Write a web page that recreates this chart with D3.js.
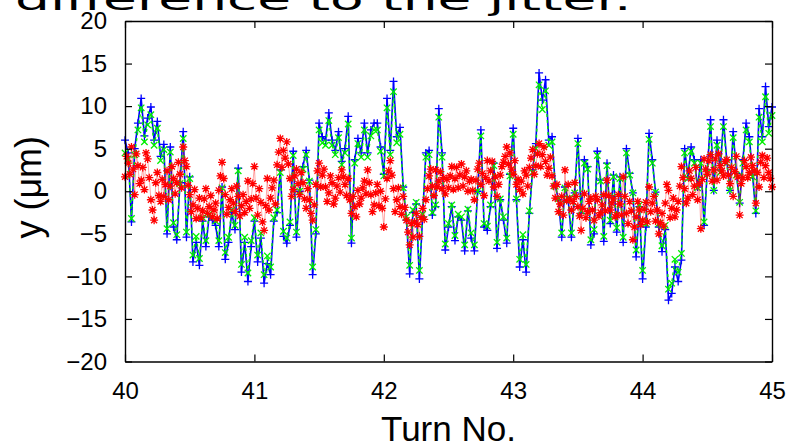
<!DOCTYPE html>
<html>
<head>
<meta charset="utf-8">
<script src="https://cdn.jsdelivr.net/npm/d3@7"></script>
<style>
  body { margin: 0; background: #fff; }
  svg { display: block; font-family: "Liberation Sans", Arial, sans-serif; }
</style>
</head>
<body>
<svg width="793" height="445"></svg>
<script>
// turn range and sampling of the measurement
const turnStart = 40;
const samplesPerTurn = 40;     // blue and green traces
const redSamplesPerTurn = 80;  // red trace is sampled twice as often
const xTicks = [40, 41, 42, 43, 44, 45];
const yTicks = [-20, -15, -10, -5, 0, 5, 10, 15, 20];

// blue "+" trace
const blueValues = [
  6.0, 4.5, -3.6, 5.0, 8.0, 10.9, 6.5, 8.6, 9.9, 6.0,
  8.2, 4.1, 5.5, -5.0, 5.2, -4.2, -5.7, 1.0, 7.0, -5.4,
  1.7, -8.3, -6.0, -8.7, -3.5, -6.5, -3.0, -3.4, -4.0, -6.5,
  0.5, -8.0, -6.0, -2.5, -4.5, 2.7, -9.5, -6.0, -10.6, -6.5,
  -3.5, -8.3, -5.5, -10.8, -8.5, -9.8, -3.5, -2.5, 2.5, -5.3,
  -6.1, -4.0, 4.7, -5.4, 0.0, 2.9, 4.8, 1.3, -9.8, -5.0,
  8.0, 6.4, 6.0, 9.2, 6.0, 4.8, 7.0, 3.5, 5.0, 8.8,
  -6.1, 3.7, 6.2, 4.5, 8.0, 4.5, 7.2, 8.0, 8.0, 5.2,
  2.0, 10.9, 4.8, 12.9, 6.4, 7.5, 0.5, -3.4, -9.7, -2.5,
  -1.5, -10.3, -3.0, 4.5, 4.8, -2.8, -1.8, 9.7, 4.5, -6.9,
  -4.2, -1.8, -5.8, -3.0, -3.4, -7.0, -2.3, -5.5, -7.0, 0.0,
  7.2, -4.2, -4.6, -1.8, 3.3, -6.7, -1.0, -3.4, -6.1, 2.0,
  7.4, -1.0, -8.9, -5.7, -9.5, -2.6, 2.5, 5.6, 13.9, 10.7,
  13.1, 6.0, 6.4, 0.7, -1.0, -5.4, 0.5, -1.0, -5.4, -0.2,
  6.2, -2.6, 3.7, 2.9, -6.3, -5.0, 4.7, 1.3, -5.9, 3.3,
  -3.8, 1.9, -4.8, 1.7, -6.0, 5.0, 2.1, -0.2, -7.7, -1.8,
  -10.3, -4.2, 6.8, 3.7, -0.1, -4.2, -7.1, -4.5, -12.8, -12.0,
  -8.9, -10.6, -8.1, 5.0, 1.7, 5.2, 3.7, 0.5, 3.7, -4.0,
  2.5, 8.4, 0.1, 6.0, 2.5, 8.4, 3.7, 0.1, 7.0, 2.1,
  -1.4, 3.7, 8.0, 6.4, 1.9, -2.6, 9.7, 6.4, 12.3, 7.6, 9.9
];

// green "x" trace
const greenValues = [
  4.5, 3.8, -3.2, 4.3, 7.2, 9.8, 5.8, 7.8, 9.0, 5.4,
  7.4, 3.6, 4.9, -4.4, 4.6, -3.7, -5.1, 0.9, 6.2, -4.8,
  1.5, -7.5, -5.3, -7.9, -3.1, -5.8, -2.7, -3.0, -3.5, -5.8,
  0.4, -7.2, -5.4, -2.2, -4.0, 2.4, -8.6, -5.4, -9.6, -5.8,
  -3.1, -7.5, -4.9, -9.8, -7.6, -8.9, -3.1, -2.2, 2.2, -4.7,
  -5.5, -3.6, 4.2, -4.8, 0.0, 2.6, 4.3, 1.2, -8.9, -4.5,
  7.2, 5.7, 5.4, 8.3, 5.4, 4.3, 6.3, 3.1, 4.5, 7.9,
  -5.5, 3.3, 5.6, 4.0, 7.2, 4.0, 6.5, 7.2, 7.2, 4.7,
  1.8, 9.8, 4.3, 11.7, 5.7, 6.7, 0.4, -3.0, -8.7, -2.2,
  -1.3, -9.3, -2.7, 4.0, 4.3, -2.5, -1.6, 8.7, 4.0, -6.2,
  -3.8, -1.6, -5.2, -2.7, -3.0, -6.3, -2.1, -4.9, -6.3, 0.0,
  6.5, -3.8, -4.1, -1.6, 3.0, -6.0, -0.9, -3.0, -5.5, 1.8,
  6.7, -0.9, -8.0, -5.1, -8.6, -2.3, 2.2, 5.0, 12.5, 9.6,
  11.8, 5.4, 5.8, 0.6, -0.9, -4.9, 0.4, -0.9, -4.9, -0.2,
  5.6, -2.3, 3.3, 2.6, -5.7, -4.5, 4.2, 1.2, -5.3, 3.0,
  -3.4, 1.7, -4.3, 1.5, -5.4, 4.5, 1.9, -0.2, -6.9, -1.6,
  -9.3, -3.8, 6.1, 3.3, -0.1, -3.8, -6.4, -4.0, -11.5, -10.8,
  -8.0, -9.5, -7.3, 4.5, 1.5, 4.7, 3.3, 0.4, 3.3, -3.6,
  2.2, 7.6, 0.1, 5.4, 2.2, 7.6, 3.3, 0.1, 6.3, 1.9,
  -1.3, 3.3, 7.2, 5.8, 1.7, -2.3, 8.7, 5.8, 11.1, 6.8, 8.9
];

// red "*" trace
const redValues = [
  1.7, 4.1, 3.3, 2.0, 5.2, 2.6, -0.4, 4.4, 3.0, 0.9, 1.3, 2.8, 0.2, 4.5, 3.8, 1.6, -1.0, -2.2, -3.4, 1.0,
  2.2, -0.5, -1.2, 1.4, -0.6, 0.8, 2.4, -1.0, 0.6, 2.9, 1.5, -0.3, 1.0, 3.4, 2.0, 0.4, 5.2, 3.6, 2.9, 0.7,
  -0.4, -2.4, -1.6, 0.2, -3.2, -2.0, -0.8, -3.1, -2.3, -0.9, 0.3, -2.6, -1.8, -0.5, -3.0, -2.2, -1.4, -3.2, 0.1, 1.8,
  3.4, 1.5, -0.4, -2.7, -1.9, -1.0, 0.3, -1.4, -2.4, 0.6, -0.6, -2.9, -1.7, -0.4, -2.5, -1.2, 1.2, -2.0, -0.9, 0.9,
  2.9, -0.8, -2.8, 0.3, -1.3, -3.6, -4.6, -1.7, 1.5, -2.2, -0.8, 0.4, 1.3, -1.5, 3.1, 4.6, 6.2, 2.8, 4.8, 3.9,
  5.8, 3.2, 1.5, -0.6, 0.2, 1.8, 2.6, 0.9, -0.4, 2.2, 1.0, -0.9, -2.0, 0.3, -1.0, -2.6, -3.4, -1.6, 0.8, 2.4,
  3.3, 0.5, 1.9, 2.6, 0.5, -1.2, -0.2, 1.8, 1.0, -1.5, -0.8, 0.6, 1.6, -0.1, 2.5, 1.7, 0.8, -0.5, 1.5, -1.0,
  -2.6, -0.6, -1.8, -3.0, 0.1, -1.5, -0.8, 0.4, 1.2, -0.3, 2.5, 1.0, -0.4, -2.4, -1.6, -0.2, 0.8, -1.7, 0.0, -2.0,
  -4.2, -0.9, 1.5, 2.4, 3.6, 1.9, 0.3, -2.4, -1.0, 0.4, -1.8, -2.7, -0.6, -1.9, -3.4, -4.8, -6.3, -3.8, -5.4, -3.6,
  -2.6, -3.9, -5.3, -3.1, -2.0, -3.3, -1.0, 0.3, 1.8, 2.6, 0.6, -0.5, 2.5, 0.5, 1.2, 2.3, 0.3, 1.6, -0.3, 1.4,
  0.4, 1.8, 2.9, 0.2, 1.5, 2.8, 0.4, 1.9, 3.2, 0.6, 1.7, 2.4, 0.0, 1.2, 1.4, 0.1, -1.0, 1.3, 2.6, 3.3,
  0.8, 2.1, -0.5, 1.6, 3.6, 1.2, 2.4, 3.5, 0.5, 1.7, -0.6, 0.8, 1.9, 2.9, 3.4, 4.1, 5.2, 3.2, 4.5, 2.6,
  2.0, 3.6, 0.8, 1.4, 0.2, 1.2, -0.3, 2.4, 1.9, 0.6, 2.8, 3.9, 4.9, 2.0, 3.0, 4.4, 5.6, 2.9, 4.3, 5.2,
  3.5, 1.9, 2.7, 4.0, 1.8, 0.6, -0.8, 0.8, -2.4, -1.5, -0.6, -2.8, 2.5, -1.1, 0.8, -0.9, -2.2, -1.2, 1.0, -0.6,
  -1.8, -2.9, -4.6, -2.0, -0.3, -3.1, -2.4, -1.2, -0.8, -2.2, -3.4, -0.6, -1.0, -2.9, -2.5, -1.6, -0.4, -2.3, 1.3, -0.5,
  -2.2, -1.4, -0.9, -3.0, -2.8, -0.4, -1.5, -2.8, 1.7, -0.6, -2.6, -3.8, -1.2, -2.3, -5.7, -4.2, -3.0, -1.2, -2.2, -3.9,
  -3.4, -2.1, -1.3, -3.6, 0.5, -2.4, -1.4, -0.6, -3.5, -2.2, -5.0, -3.7, -2.6, -4.1, -1.4, 0.8, 0.1, -3.1, -2.0, -0.8,
  -3.0, -2.2, -1.2, 0.6, 2.9, 1.6, 0.3, -1.4, -0.8, 2.4, 1.5, -0.4, 0.6, 2.8, -1.0, 0.9, -4.4, 1.4, 3.8, 2.6,
  2.0, 3.6, 4.3, 1.2, 2.5, 3.8, 1.3, 4.4, 3.0, 2.4, 1.8, 3.5, 3.7, 1.9, 0.9, 2.8, -0.6, 2.3, 4.1, 1.7,
  -2.8, 0.9, 1.6, 3.6, 2.9, 1.6, 2.2, 4.0, 3.0, 2.4, -1.4, 2.2, 0.5, 3.4, 4.2, 1.6, 3.0, 3.9, 2.2, 1.5, 0.5
];

function drawChart() {
  let svg = d3.select("svg"),
    margin = { top: 21, right: 21, bottom: 83.5, left: 125 },
    width = +svg.attr("width") - margin.left - margin.right,
    height = +svg.attr("height") - margin.top - margin.bottom;

  let x = d3.scaleLinear().domain([40, 45]).range([0, width]);
  let y = d3.scaleLinear().domain([-20, 20]).range([height, 0]);

  // slide title, squashed and cut off at the top like in the original
  svg.append("text")
    .attr("transform", "translate(15,10) scale(1,0.55)")
    .style("font-family", "'DejaVu Sans', sans-serif")
    .style("font-size", "55px")
    .text("difference to the jitter.");

  let g = svg.append("g")
    .attr("transform", "translate(" + margin.left + "," + margin.top + ")");

  let toPoints = (values, perTurn) => values.map((v, i) => ({ t: turnStart + i / perTurn, v: v }));
  let line = d3.line().x((d) => x(d.t)).y((d) => y(d.v));

  let plot = g.append("g");

  let series = [
    { data: toPoints(blueValues, samplesPerTurn), color: "#0000ff", mark: "M-4,0H4M0,-4V4", dash: null, lw: 1.6, lo: 1 },
    { data: toPoints(greenValues, samplesPerTurn), color: "#00ee00", mark: "M-3.2,-3.2L3.2,3.2M-3.2,3.2L3.2,-3.2", dash: "3,3", lw: 1.4, lo: 1 },
    { data: toPoints(redValues, redSamplesPerTurn), color: "#ff0000", mark: "M-4,0H4M0,-4V4M-3,-3L3,3M-3,3L3,-3", dash: null, lw: 0.7, lo: 0.5 }
  ];

  series.forEach((s) => {
    plot.append("path")
      .datum(s.data)
      .attr("d", line)
      .attr("fill", "none")
      .attr("stroke", s.color)
      .attr("stroke-width", s.lw)
      .attr("stroke-opacity", s.lo)
      .attr("stroke-dasharray", s.dash);

    plot.append("g")
      .selectAll("path")
      .data(s.data)
      .enter().append("path")
      .attr("transform", (d) => "translate(" + x(d.t) + "," + y(d.v) + ")")
      .attr("d", s.mark)
      .attr("fill", "none")
      .attr("stroke", s.color)
      .attr("stroke-width", 1.3);
  });

  // axes with inward ticks on all four sides
  g.append("g")
    .attr("transform", "translate(0," + height + ")")
    .call(d3.axisBottom(x).tickValues(xTicks).tickSize(-7).tickSizeOuter(0).tickPadding(20).tickFormat(d3.format("d")));
  g.append("g")
    .call(d3.axisLeft(y).tickValues(yTicks).tickSize(-7).tickSizeOuter(0).tickPadding(18).tickFormat(d3.format("d")));
  g.append("g")
    .call(d3.axisTop(x).tickValues(xTicks).tickSize(-7).tickSizeOuter(0).tickFormat(""));
  g.append("g")
    .attr("transform", "translate(" + width + ",0)")
    .call(d3.axisRight(y).tickValues(yTicks).tickSize(-7).tickSizeOuter(0).tickFormat(""));

  g.selectAll(".domain").attr("stroke", "#000").attr("stroke-width", 1.4);
  g.selectAll(".tick line").attr("stroke", "#000").attr("stroke-width", 1.2);
  g.selectAll(".tick text")
    .style("font-family", "'Liberation Sans', Arial, sans-serif")
    .style("font-size", "24px")
    .attr("fill", "#000");

  svg.append("text")
    .attr("x", margin.left + width / 2)
    .attr("y", 441)
    .attr("text-anchor", "middle")
    .style("font-size", "35px")
    .text("Turn No.");

  svg.append("text")
    .attr("transform", "translate(41," + (margin.top + height / 2 - 4) + ") rotate(-90)")
    .attr("text-anchor", "middle")
    .style("font-size", "36px")
    .text("y (\u03bcm)");
}

drawChart();
</script>
</body>
</html>
